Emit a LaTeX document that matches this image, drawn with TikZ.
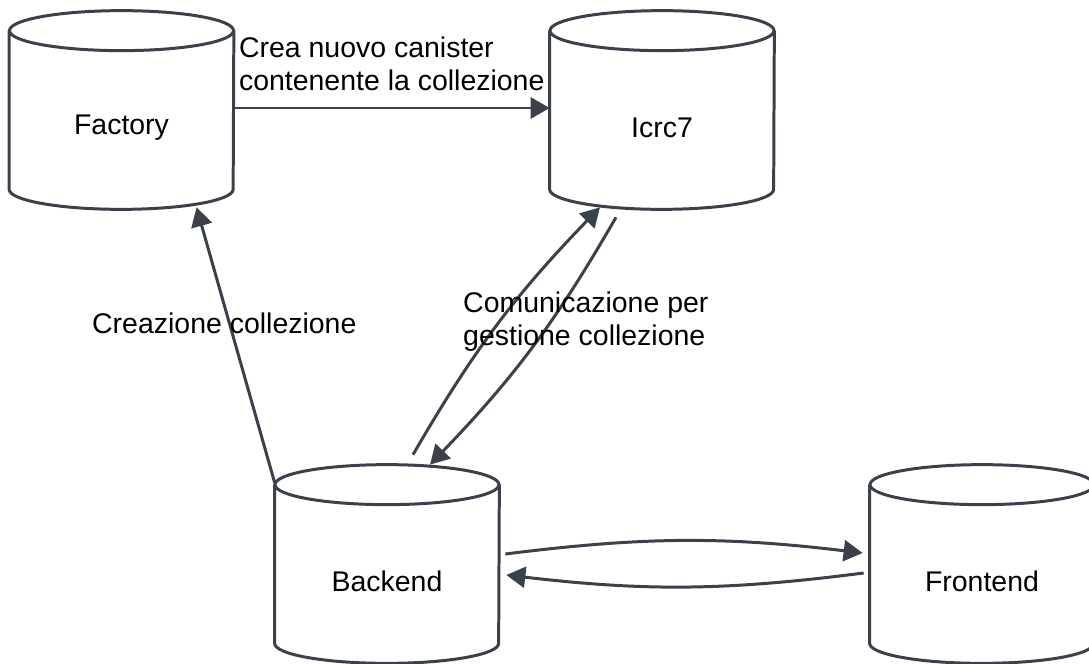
\documentclass[tikz,border=0pt]{standalone}
\usepackage{fontspec}
\setmainfont{Liberation Sans}
\usepackage{tikz}
\usetikzlibrary{calc,arrows.meta}
\definecolor{linkgray}{RGB}{58,65,74}

\begin{document}
\begin{tikzpicture}[
  font=\fontsize{16.2}{18.8}\selectfont,
  canister/.style={minimum width=4.48cm, minimum height=3.96cm, inner sep=0pt},
  edge/.style={line width=1.7pt, color=linkgray, text=black},
  link/.style={edge, -{Triangle[length=0.38cm, width=0.42cm]}}
]
\fill [white] (0, 0) rectangle (21.78, -13.28);
\useasboundingbox (0, 0) rectangle (21.78, -13.28);

\node [canister, label={[yshift=-0.36cm]center:Factory}] (fac) at (2.43, -2.20) {};
\node [canister, label={[yshift=-0.36cm]center:Icrc7}] (icrc) at (13.24, -2.20) {};
\node [canister, label={[yshift=-0.34cm]center:Backend}] (back) at (7.74, -11.28) {};
\node [canister, label={[yshift=-0.34cm]center:Frontend}] (front) at (19.64, -11.28) {};

\foreach \c in {fac, icrc, back, front} {
  \draw [edge] ($(\c.north)+(0, -0.4)$) ellipse [x radius=2.24, y radius=0.4];
  \draw [edge] ($(\c.north west)+(0, -0.4)$) -- ($(\c.south west)+(0, 0.4)$)
    arc [start angle=180, end angle=360, x radius=2.24, y radius=0.4]
    -- ($(\c.north east)+(0, -0.4)$);
}

\draw [link] ([yshift=0.04cm]fac.east) -- node [midway, yshift=0.89cm, align=left] (crealab) {Crea nuovo canister\\contenente la collezione} ([yshift=0.04cm]icrc.west);
\draw [link] ([yshift=-0.36cm]back.north west) -- node [pos=0.58, xshift=-0.1cm] (creazlab) {Creazione collezione} ([xshift=1.5cm, yshift=0.04cm]fac.south);

\draw [link] ([shift={(0.52, 0.2)}]back.north) to [bend left=7] ([shift={(-1.24, 0.04)}]icrc.south);
\draw [link] ([shift={(-0.92, -0.16)}]icrc.south) to [bend left=7] ([shift={(0.86, 0)}]back.north);
\node [anchor=west, align=left] (comlab) at (9.14, -6.43) {Comunicazione per\\gestione collezione};

\draw [link] ([shift={(0.12, 0.2)}]back.east) to [bend left=7] ([shift={(-0.14, 0.22)}]front.west);
\draw [link] ([shift={(-0.12, -0.18)}]front.west) to [bend left=7] ([shift={(0.14, -0.22)}]back.east);
\end{tikzpicture}
\end{document}
